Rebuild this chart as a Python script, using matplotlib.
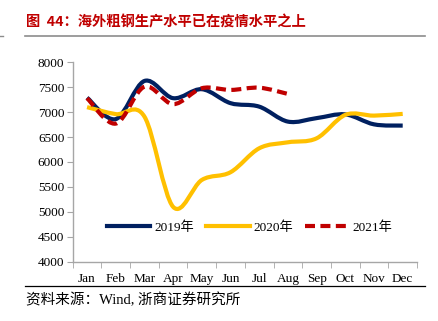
import numpy as np
import matplotlib
matplotlib.use("Agg")
from matplotlib import pyplot as plt
from matplotlib.path import Path
from matplotlib.patches import PathPatch
from matplotlib.lines import Line2D

# monthly crude steel output outside China (10k t)
months = ["Jan", "Feb", "Mar", "Apr", "May", "Jun", "Jul", "Aug", "Sep", "Oct", "Nov", "Dec"]
y2019 = [7290, 6860, 7625, 7280, 7460, 7180, 7110, 6810, 6880, 6955, 6755, 6730]
y2020 = [7100, 6960, 6910, 5100, 5640, 5795, 6275, 6395, 6475, 6945, 6930, 6965]
y2021 = [7280, 6770, 7510, 7160, 7480, 7445, 7490, 7365]

yticks = [4000, 4500, 5000, 5500, 6000, 6500, 7000, 7500, 8000]

NAVY = "#002060"
GOLD = "#FFC000"
RED = "#C00000"

SERIF = ["Liberation Serif", "Noto Sans CJK SC"]


def smooth_path(xs, ys):
    # Excel-style smoothed line: cubic bezier through every point
    pts = np.column_stack([xs, ys]).astype(float)
    n = len(pts)
    verts = [pts[0]]
    codes = [Path.MOVETO]
    for i in range(n - 1):
        p0 = pts[i - 1] if i > 0 else pts[i]
        p1 = pts[i]
        p2 = pts[i + 1]
        p3 = pts[i + 2] if i + 2 < n else pts[i + 1]
        verts += [p1 + (p2 - p0) / 6, p2 - (p3 - p1) / 6, p2]
        codes += [Path.CURVE4] * 3
    return Path(verts, codes)


fig = plt.figure(figsize=(4.39, 3.21), dpi=100)
ax = fig.add_axes([0.1656, 0.1847, 0.7844, 0.6213])

series = [
    ("2019年", y2019, NAVY, "-"),
    ("2020年", y2020, GOLD, "-"),
    ("2021年", y2021, RED, (0, (2.4, 1.3))),
]
handles = []
for label, vals, color, ls in series:
    x = np.arange(len(vals))
    patch = PathPatch(smooth_path(x, vals), facecolor="none", edgecolor=color,
                      lw=3.0, linestyle=ls, capstyle="butt", joinstyle="round")
    ax.add_patch(patch)
    handles.append(Line2D([], [], color=color, lw=3.0, linestyle=ls, label=label))

ax.set_xlim(-0.5, 11.5)
ax.set_ylim(4000, 8000)
ax.set_yticks(yticks)
ax.set_yticklabels([str(v) for v in yticks], family=SERIF, fontsize=9.5)
ax.set_xticks(np.arange(12))
ax.set_xticklabels(months, family=SERIF, fontsize=9.5)
ax.set_xticks(np.arange(-0.5, 12, 1), minor=True)
ax.tick_params(axis="x", which="major", length=0, pad=8)
ax.tick_params(axis="x", which="minor", length=4, color="#A6A6A6", direction="out")
ax.tick_params(axis="y", length=4, color="#A6A6A6", direction="out", pad=2)

for side in ("top", "right"):
    ax.spines[side].set_visible(False)
for side in ("left", "bottom"):
    ax.spines[side].set_color("#A6A6A6")
    ax.spines[side].set_linewidth(1.0)

ax.legend(handles=handles, loc="lower left", bbox_to_anchor=(0.065, 0.08),
          ncol=3, frameon=False, handlelength=3.3, handletextpad=0.3,
          columnspacing=0.9, prop={"family": SERIF, "size": 9.5})

# header and footer
fig.text(26 / 439, 1 - 22 / 321, "图  44：海外粗钢生产水平已在疫情水平之上",
         family=["Noto Sans CJK SC"], fontweight="bold", fontsize=10.3,
         color=RED, va="center", ha="left")
fig.add_artist(Line2D([25 / 439, 425 / 439], [1 - 36 / 321] * 2,
                      color="#8C8C8C", lw=1.2))
fig.add_artist(Line2D([0, 3 / 439], [1 - 36 / 321] * 2, color="#8C8C8C", lw=1.0))
fig.add_artist(Line2D([25 / 439, 425 / 439], [1 - 286 / 321] * 2,
                      color="black", lw=0.9))
fig.text(26 / 439, 1 - 300 / 321, "资料来源：Wind, 浙商证券研究所",
         family=SERIF, fontsize=10.5, color="black", va="center", ha="left")

fig.savefig("out.png", dpi=100)
